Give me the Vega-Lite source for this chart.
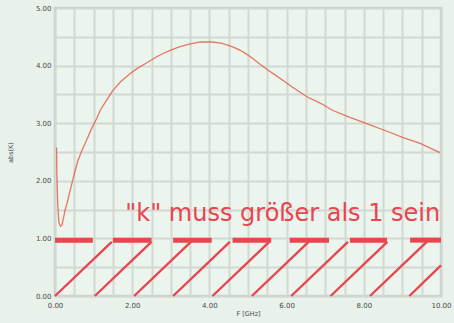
{
  "$schema": "https://vega.github.io/schema/vega-lite/v6.json",
  "width": 386,
  "height": 288,
  "autosize": {"type": "none"},
  "padding": {"left": 55, "top": 8, "right": 13, "bottom": 27},
  "background": "#e8f1ea",
  "config": {
    "font": "Liberation Sans",
    "view": {"fill": "#ecf4ee", "stroke": "#c9cec9", "strokeWidth": 2.5},
    "axis": {
      "domain": false,
      "ticks": false,
      "gridColor": "#d2d8d2",
      "gridWidth": 2,
      "gridOpacity": 1,
      "labelFont": "DejaVu Sans",
      "labelFontSize": 7,
      "labelColor": "#4a4a4a",
      "labelOverlap": false,
      "labelFlush": false,
      "titleFont": "DejaVu Sans",
      "titleFontSize": 6.5,
      "titleFontWeight": "normal",
      "titleColor": "#4a4a4a"
    }
  },
  "datasets": {
    "kurve": [
      {"f": 0.04, "k": 2.58}, {"f": 0.05, "k": 2.1}, {"f": 0.07, "k": 1.6},
      {"f": 0.1, "k": 1.28}, {"f": 0.14, "k": 1.21}, {"f": 0.18, "k": 1.23},
      {"f": 0.22, "k": 1.35}, {"f": 0.26, "k": 1.49}, {"f": 0.32, "k": 1.63},
      {"f": 0.38, "k": 1.8}, {"f": 0.44, "k": 1.96}, {"f": 0.52, "k": 2.17},
      {"f": 0.6, "k": 2.36}, {"f": 0.7, "k": 2.53}, {"f": 0.82, "k": 2.71},
      {"f": 0.95, "k": 2.91}, {"f": 1.08, "k": 3.08}, {"f": 1.17, "k": 3.22},
      {"f": 1.3, "k": 3.36}, {"f": 1.5, "k": 3.57}, {"f": 1.7, "k": 3.72},
      {"f": 1.94, "k": 3.86}, {"f": 2.15, "k": 3.96}, {"f": 2.38, "k": 4.05},
      {"f": 2.6, "k": 4.14}, {"f": 2.8, "k": 4.21}, {"f": 3.0, "k": 4.27},
      {"f": 3.2, "k": 4.32}, {"f": 3.45, "k": 4.37}, {"f": 3.76, "k": 4.41},
      {"f": 4.07, "k": 4.41}, {"f": 4.3, "k": 4.39}, {"f": 4.46, "k": 4.36},
      {"f": 4.62, "k": 4.32}, {"f": 4.79, "k": 4.27}, {"f": 4.96, "k": 4.2},
      {"f": 5.13, "k": 4.12}, {"f": 5.32, "k": 4.02}, {"f": 5.52, "k": 3.92},
      {"f": 5.72, "k": 3.83}, {"f": 5.91, "k": 3.74}, {"f": 6.1, "k": 3.65},
      {"f": 6.3, "k": 3.56}, {"f": 6.55, "k": 3.45}, {"f": 6.87, "k": 3.35},
      {"f": 7.2, "k": 3.22}, {"f": 7.64, "k": 3.1}, {"f": 8.16, "k": 2.97},
      {"f": 8.6, "k": 2.86}, {"f": 9.02, "k": 2.75}, {"f": 9.46, "k": 2.65},
      {"f": 9.97, "k": 2.49}
    ],
    "balken": [
      {"f0": 0.0, "f1": 0.98, "k": 0.97},
      {"f0": 1.5, "f1": 2.5, "k": 0.97},
      {"f0": 3.06, "f1": 4.06, "k": 0.97},
      {"f0": 4.6, "f1": 5.6, "k": 0.97},
      {"f0": 6.08, "f1": 7.1, "k": 0.97},
      {"f0": 7.64, "f1": 8.6, "k": 0.97},
      {"f0": 9.2, "f1": 10.0, "k": 0.97}
    ],
    "schraffur": [
      {"f0": 0.0, "k0": 0, "f1": 1.47, "k1": 0.94},
      {"f0": 1.03, "k0": 0, "f1": 2.5, "k1": 0.94},
      {"f0": 2.05, "k0": 0, "f1": 3.52, "k1": 0.94},
      {"f0": 3.06, "k0": 0, "f1": 4.53, "k1": 0.94},
      {"f0": 4.08, "k0": 0, "f1": 5.55, "k1": 0.94},
      {"f0": 5.1, "k0": 0, "f1": 6.57, "k1": 0.94},
      {"f0": 6.12, "k0": 0, "f1": 7.59, "k1": 0.94},
      {"f0": 7.14, "k0": 0, "f1": 8.61, "k1": 0.94},
      {"f0": 8.16, "k0": 0, "f1": 9.63, "k1": 0.94},
      {"f0": 9.18, "k0": 0, "f1": 10.0, "k1": 0.53}
    ],
    "hinweis": [
      {"f": 5.9, "k": 1.3, "text": "\"k\" muss größer als 1 sein"}
    ]
  },
  "layer": [
    {
      "data": {"name": "schraffur"},
      "mark": {"type": "rule", "color": "#e8454f", "strokeWidth": 2.4},
      "encoding": {
        "x": {
          "field": "f0", "type": "quantitative",
          "scale": {"domain": [0, 10], "nice": false, "zero": false},
          "axis": {
            "tickCount": 20,
            "labelExpr": "datum.value % 2 === 0 ? format(datum.value, '.2f') : ''",
            "labelPadding": 5,
            "title": "F [GHz]",
            "titlePadding": 2
          }
        },
        "x2": {"field": "f1"},
        "y": {
          "field": "k0", "type": "quantitative",
          "scale": {"domain": [0, 5], "nice": false, "zero": false},
          "axis": {
            "tickCount": 10,
            "labelExpr": "datum.value % 1 === 0 ? format(datum.value, '.2f') : ''",
            "labelPadding": 4,
            "title": "abs(K)",
            "titlePadding": 22
          }
        },
        "y2": {"field": "k1"}
      }
    },
    {
      "data": {"name": "balken"},
      "mark": {"type": "rule", "color": "#e8454f", "strokeWidth": 5},
      "encoding": {
        "x": {"field": "f0", "type": "quantitative"},
        "x2": {"field": "f1"},
        "y": {"field": "k", "type": "quantitative"}
      }
    },
    {
      "data": {"name": "kurve"},
      "mark": {"type": "line", "color": "#e4573f", "strokeWidth": 1.3, "opacity": 0.8},
      "encoding": {
        "x": {"field": "f", "type": "quantitative"},
        "y": {"field": "k", "type": "quantitative"}
      }
    },
    {
      "data": {"name": "hinweis"},
      "mark": {
        "type": "text",
        "color": "#e8454f",
        "font": "DejaVu Sans",
        "fontSize": 24,
        "align": "center",
        "baseline": "alphabetic"
      },
      "encoding": {
        "x": {"field": "f", "type": "quantitative"},
        "y": {"field": "k", "type": "quantitative"},
        "text": {"field": "text"}
      }
    }
  ]
}
